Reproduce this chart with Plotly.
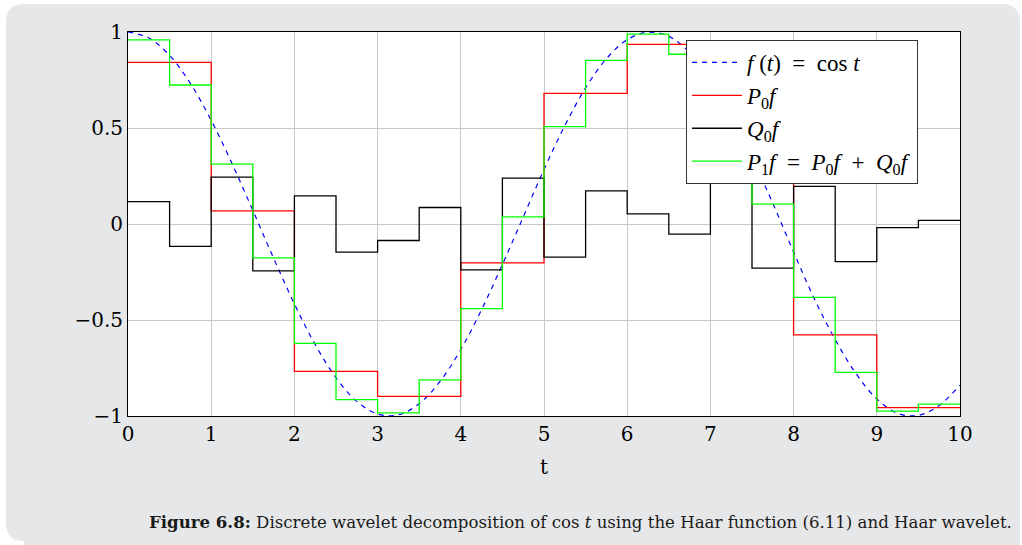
import plotly.graph_objects as go

# Sample of f(t) = cos t on a 0.25 grid
t_f = [i * 0.25 for i in range(41)]
f_vals = [1.000, 0.969, 0.878, 0.732, 0.540, 0.315, 0.071, -0.178, -0.416, -0.628,
          -0.801, -0.924, -0.990, -0.994, -0.936, -0.820, -0.654, -0.446, -0.211, 0.036,
          0.284, 0.512, 0.709, 0.861, 0.960, 0.999, 0.977, 0.894, 0.754, 0.566,
          0.347, 0.108, -0.146, -0.390, -0.602, -0.779, -0.911, -0.986, -0.997, -0.945,
          -0.839]

# P0 f: one value per unit interval [k, k+1]
t_p0 = list(range(11))
p0_vals = [0.842, 0.068, -0.768, -0.898, -0.202, 0.680, 0.936, 0.332, -0.577, -0.956]

# Q0 f and P1 f: one value per half interval [k/2, (k+1)/2]
t_half = [i * 0.5 for i in range(21)]
q0_vals = [0.117, -0.117, 0.244, -0.244, 0.147, -0.147, -0.086, 0.086, -0.239, 0.239,
           -0.173, 0.173, 0.053, -0.053, 0.230, -0.230, 0.196, -0.196, -0.019, 0.019]
p1_vals = [0.959, 0.724, 0.312, -0.176, -0.622, -0.915, -0.984, -0.812, -0.441, 0.037,
           0.507, 0.852, 0.989, 0.884, 0.562, 0.103, -0.382, -0.773, -0.975, -0.938]

x_ticks = list(range(11))
y_ticks = [-1, -0.5, 0, 0.5, 1]
y_tick_text = ["\u22121", "\u22120.5", "0", "0.5", "1"]

TEXT_FONT = "DejaVu Serif"
MATH_FONT = "Liberation Serif"
SP = "\u00a0"  # extra math spacing in legend labels

fig = go.Figure()
fig.add_trace(go.Scatter(
    x=t_f, y=f_vals, mode="lines", line=dict(color="#0000ff", width=1.2, dash="5px,5px", shape="spline"),
    name=f"<i>f</i>{SP}(<i>t</i>){SP} ={SP} cos{SP}<i>t</i>"))
fig.add_trace(go.Scatter(
    x=t_p0, y=p0_vals + [p0_vals[-1]], mode="lines", line=dict(color="#ff0000", width=1.3, shape="hv"),
    name="<i>P</i><sub>0</sub><i>f</i>"))
fig.add_trace(go.Scatter(
    x=t_half, y=q0_vals + [q0_vals[-1]], mode="lines", line=dict(color="#000000", width=1.3, shape="hv"),
    name="<i>Q</i><sub>0</sub><i>f</i>"))
fig.add_trace(go.Scatter(
    x=t_half, y=p1_vals + [p1_vals[-1]], mode="lines", line=dict(color="#00ff00", width=1.3, shape="hv"),
    name=(f"<i>P</i><sub>1</sub><i>f</i>{SP}{SP}={SP}{SP}<i>P</i><sub>0</sub><i>f</i>"
          f"{SP}{SP}+{SP}{SP}<i>Q</i><sub>0</sub><i>f</i>")))

# Plot area in pixels: x 128..960, y 32..416
L, R, T, B = 128, 960, 32, 416
W, H = R - L, B - T


def px(x):
    return (x - L) / W


def py(y):
    return 1 - (y - T) / H


# Rounded grey caption box behind everything
x0, x1, y0, y1, r = px(6), px(1020), py(4), py(541), 18
rx, ry = r / W, r / H
path = (f"M {x0+rx},{y0} L {x1-rx},{y0} Q {x1},{y0} {x1},{y0-ry} "
        f"L {x1},{py(548)} L {x0+rx},{py(548)} "
        f"L {x0+rx},{y1} Q {x0},{y1} {x0},{y1+ry} "
        f"L {x0},{y0-ry} Q {x0},{y0} {x0+rx},{y0} Z")
fig.add_shape(type="path", xref="paper", yref="paper", path=path,
              fillcolor="#e6e7e9", line=dict(width=0), layer="below")
fig.add_shape(type="rect", xref="paper", yref="paper", x0=0, x1=1, y0=0, y1=1,
              fillcolor="white", line=dict(width=0), layer="below")

fig.add_annotation(
    xref="paper", yref="paper", x=px(147), y=py(522), xanchor="left", yanchor="middle",
    showarrow=False, font=dict(family=TEXT_FONT, size=16.6, color="#1a1a1a"),
    text="<b>Figure 6.8:</b> Discrete wavelet decomposition of cos <i>t</i> using the Haar function (6.11) and Haar wavelet.")

axis_common = dict(showline=True, linecolor="black", linewidth=1, mirror=True,
                   showgrid=True, gridcolor="#c8c8c8", gridwidth=1, zeroline=False,
                   ticks="", tickfont=dict(family=TEXT_FONT, size=20, color="black"))

fig.update_xaxes(range=[0, 10], tickvals=x_ticks, ticktext=[str(v) for v in x_ticks],
                 title=dict(text="t", font=dict(family=TEXT_FONT, size=20, color="black"), standoff=14),
                 **axis_common)
fig.update_yaxes(range=[-1, 1], tickvals=y_ticks, ticktext=y_tick_text, **axis_common)

fig.update_layout(
    width=1022, height=545, autosize=False,
    margin=dict(l=L, r=1022 - R, t=T, b=545 - B),
    paper_bgcolor="white", plot_bgcolor="rgba(0,0,0,0)",
    showlegend=True,
    legend=dict(x=px(686), y=py(40), xanchor="left", yanchor="top",
                bgcolor="white", bordercolor="#333333", borderwidth=1,
                font=dict(family=MATH_FONT, size=23, color="black"),
                tracegroupgap=0, itemwidth=50),
)

fig.write_html("out.html")
